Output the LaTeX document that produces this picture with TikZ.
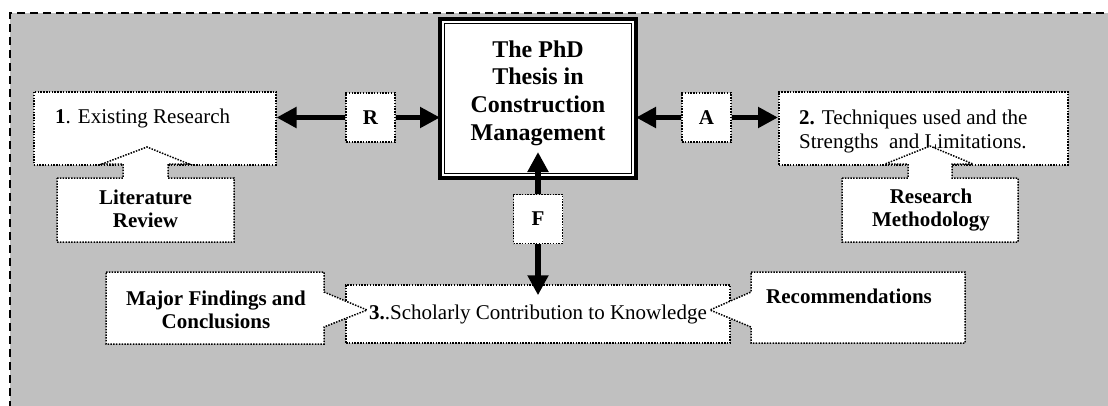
\documentclass[tikz,border=0pt]{standalone}
\usepackage{fontspec}
\setmainfont{Liberation Serif}
\usetikzlibrary{arrows.meta,positioning}
\definecolor{panelgray}{RGB}{192,192,192}

\begin{document}
\begin{tikzpicture} [x=1pt,y=-1pt,
    dotbox/.style={draw,fill=white,line width=1.5pt,dash pattern=on 1.5pt off 1.3pt},
    letterbox/.style={dotbox,minimum width=49pt,minimum height=49pt,inner sep=0pt,font=\fontsize{21}{24}\selectfont\bfseries},
    bigarrow/.style={line width=5.5pt,-{Triangle[length=20pt,width=20pt]}},
    plaintext/.style={inner sep=0pt,align=left,font=\fontsize{21}{24.5}\selectfont},
    boldtext/.style={inner sep=0pt,align=center,font=\fontsize{21}{23}\selectfont\bfseries}]

  \useasboundingbox (0,0) rectangle (1108,405);
  \fill[panelgray] (10,13) rectangle (1130,430);
  \draw[line width=1.8pt,dash pattern=on 8pt off 5pt] (1130,13) -- (10,13) -- (10,430);

  % boxes
  \node[dotbox,anchor=north west,minimum width=242pt,minimum height=73pt] (exist) at (33,91) {};
  \node[plaintext,anchor=base west] (existText) at (55,123.5) {\textbf{1}. Existing Research};
  \node[dotbox,anchor=north west,minimum width=289pt,minimum height=73pt] (tech) at (778,91) {};
  \node[plaintext,anchor=north west] (techText) at (799,109.5) {\textbf{2.} Techniques used and the\\Strengths\ \ and Limitations.};

  \node[draw,fill=white,line width=4pt,outer sep=0pt,minimum width=196pt,minimum height=159pt] (thesis) at (538,98.5) {};
  \draw[line width=1.5pt] ([shift={(4.5pt,-4.5pt)}]thesis.north west) rectangle ([shift={(-4.5pt,4.5pt)}]thesis.south east);
  \node[inner sep=0pt,align=center,font=\fontsize{24}{27.7}\selectfont\bfseries] (thesisText) at (538,93) {The PhD\\Thesis in\\Construction\\Management};

  \node[letterbox] (rbox) at (370.5,117.5) {R};
  \node[letterbox] (abox) at (706.5,117.5) {A};
  \node[letterbox] (fbox) at (538,219) {F};

  \node[dotbox,minimum width=384pt,minimum height=58pt,inner sep=0pt,font=\fontsize{21}{24}\selectfont] (scholar) at (538,314) {\textbf{3.}.Scholarly Contribution to Knowledge};

  % callouts
  \draw[dotbox] (57,178) -- (123,178) -- (123,164) -- (102,164) -- (147,147) -- (189,164) -- (168,164) -- (168,178) -- (234,178) -- (234,242) -- (57,242) -- cycle;
  \node[boldtext] (lit) at (145.5,209) {Literature\\Review};
  \draw[dotbox] (842,178) -- (908,178) -- (908,164) -- (885,164) -- (930,146) -- (973,164) -- (952,164) -- (952,178) -- (1018,178) -- (1018,242) -- (842,242) -- cycle;
  \node[boldtext] (meth) at (931,210) {Research\\Methodology};
  \draw[dotbox] (106,272) -- (324,272) -- (324,292) -- (367,310) -- (324,327) -- (324,344) -- (106,344) -- cycle;
  \node[boldtext] (findings) at (216,310) {Major Findings and\\Conclusions};
  \draw[dotbox] (751,272) -- (965,272) -- (965,343) -- (751,343) -- (751,327) -- (710,310) -- (751,292) -- cycle;
  \node[boldtext,anchor=base west] (recomm) at (766,303) {Recommendations};

  % arrows
  \path[bigarrow]
    (rbox.west) edge (rbox.west -| exist.east)
    (rbox.east) edge (rbox.east -| thesis.west)
    (abox.west) edge (abox.west -| thesis.east)
    (abox.east) edge (abox.east -| tech.west)
    (fbox.north) edge [shorten >=-26pt] (thesis.south)
    (fbox.south) edge [shorten >=-11pt] (scholar.north);

\end{tikzpicture}
\end{document}
